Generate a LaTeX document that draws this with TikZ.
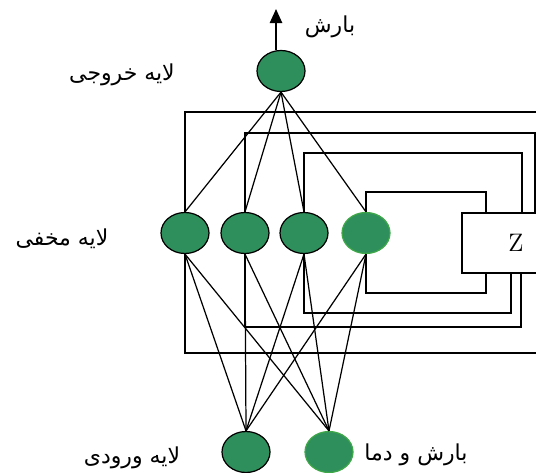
\documentclass[tikz,border=0pt]{standalone}
\usepackage{fontspec}
\newfontfamily\farsi[Script=Arabic]{DejaVu Sans}
\TeXXeTstate=1
\usetikzlibrary{shapes.geometric,arrows.meta}
\definecolor{neurongreen}{RGB}{47,143,92}
\definecolor{rimgreen}{RGB}{62,168,72}
\newcommand{\fa}[1]{{\farsi\beginR #1\endR}}

\begin{document}
\begin{tikzpicture}[
        x=0.02cm, y=-0.02cm,
        line width=0.7pt,
        neuron/.style={
            ellipse,
            draw,
            fill=neurongreen,
            minimum width=0.96cm,
            minimum height=0.82cm,
            inner sep=0pt
        },
        greenrim/.style={
            draw=rimgreen
        },
        delaybox/.style={
            rectangle,
            draw,
            minimum width=2.16cm,
            minimum height=1.2cm,
            font=\Large
        },
        layerlabel/.style={
            font=\fontsize{12.5}{15}\selectfont,
            inner sep=1pt
        },
        arrow/.style={
            -{Triangle[width=7pt,length=8pt]},
            line width=1pt
        }
    ]

        \useasboundingbox (0,0) rectangle (536,472);
        \clip (0,0) rectangle (536,472);

        % neurons
        \node[neuron] (out) at (281,71) {};
        \node[neuron] (h1) at (185,233) {};
        \node[neuron] (h2) at (245,233) {};
        \node[neuron] (h3) at (304,233) {};
        \node[neuron, greenrim] (h4) at (366,233) {};
        \node[neuron] (i1) at (246,452) {};
        \node[neuron, greenrim] (i2) at (329,452) {};
        \node[delaybox] (z) at (516,243) {Z};

        % labels
        \node[layerlabel] (lblrain) at (330,27) {\fa{بارش}};
        \node[layerlabel] (lblout) at (122,75) {\fa{لایه خروجی}};
        \node[layerlabel] (lblhid) at (62,239) {\fa{لایه مخفی}};
        \node[layerlabel] (lblin) at (132,458) {\fa{لایه ورودی}};
        \node[layerlabel] (lblvars) at (416,455) {\fa{بارش و دما}};

        % output arrow
        \coordinate (rain) at (276,9);
        \draw[arrow] (out.north -| rain) -- (rain);

        % recurrent loops through Z
        \foreach \h/\ty/\tx/\by/\bx in {h4/192/486/293/486, h3/153/522/313/511, h2/133/535/327/521, h1/112/552/353/552} {
            \draw (\h.north) |- (\tx,\ty) -- (z.north -| \tx,0);
            \draw (\h.south) |- (\bx,\by) -- (z.south -| \bx,0);
        }

        % feed-forward connections
        \foreach \h in {h1,h2,h3,h4} {
            \draw (out.south) -- (\h.north);
            \draw (\h.south) -- (i1.north);
            \draw (\h.south) -- (i2.north);
        }

    \end{tikzpicture}
\end{document}
